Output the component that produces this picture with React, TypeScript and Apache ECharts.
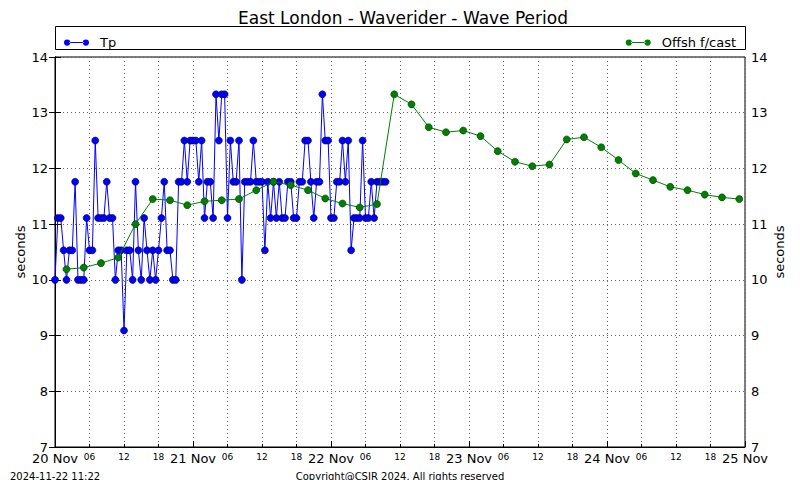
import React, { useEffect, useRef } from "react";
import * as echarts from "echarts";

// Tp (waverider) every 30 minutes from 20 Nov 00:00
const tpStartHour = 0;
const tpStepHours = 0.5;
const tpValues = [
  10.0, 11.11, 11.11, 10.53, 10.0, 10.53, 10.53, 11.76, 10.0, 10.0,
  10.0, 11.11, 10.53, 10.53, 12.5, 11.11, 11.11, 11.11, 11.76, 11.11,
  11.11, 10.0, 10.53, 10.53, 9.09, 10.53, 10.53, 10.0, 11.76, 10.53,
  10.0, 11.11, 10.53, 10.0, 10.53, 10.0, 10.53, 11.11, 11.76, 10.53,
  10.53, 10.0, 10.0, 11.76, 11.76, 12.5, 11.76, 12.5, 12.5, 12.5,
  11.76, 12.5, 11.11, 11.76, 11.76, 11.11, 13.33, 12.5, 13.33, 13.33,
  11.11, 12.5, 11.76, 11.76, 12.5, 10.0, 11.76, 11.76, 11.76, 12.5,
  11.76, 11.76, 11.76, 10.53, 11.76, 11.11, 11.76, 11.11, 11.76, 11.11,
  11.11, 11.76, 11.76, 11.11, 11.11, 11.76, 11.76, 12.5, 12.5, 11.76,
  11.11, 11.76, 11.76, 13.33, 12.5, 12.5, 11.11, 11.11, 11.76, 11.76,
  12.5, 11.76, 12.5, 10.53, 11.11, 11.11, 11.11, 12.5, 11.11, 11.11,
  11.76, 11.11, 11.76, 11.76, 11.76, 11.76,
];

// Offshore forecast every 3 hours from 20 Nov 02:00
const fcStartHour = 2;
const fcStepHours = 3;
const fcValues = [
  10.19, 10.22, 10.3, 10.4, 11.0, 11.45, 11.43, 11.34, 11.41, 11.43,
  11.45, 11.61, 11.76, 11.7, 11.61, 11.46, 11.37, 11.3, 11.36, 13.33,
  13.15, 12.74, 12.65, 12.68, 12.58, 12.31, 12.12, 12.04, 12.07, 12.52,
  12.56, 12.38, 12.15, 11.91, 11.79, 11.67, 11.61, 11.53, 11.48, 11.45,
];

const dayLabels = ["20 Nov", "21 Nov", "22 Nov", "23 Nov", "24 Nov", "25 Nov"];
const hourLabels = ["06", "12", "18"];

const titleText = "East London - Waverider - Wave Period";
const stampText = "2024-11-22 11:22";
const copyrightText = "Copyright@CSIR 2024. All rights reserved";

const FONT = "DejaVu Sans";
const legendIcon =
  "path://M0,4a3.5,3.5 0 1,0 7,0a3.5,3.5 0 1,0 -7,0z M21,4a3.5,3.5 0 1,0 7,0a3.5,3.5 0 1,0 -7,0z M6,3.55h16v0.9h-16z";

export default function App() {
  const ref = useRef<HTMLDivElement>(null);

  useEffect(() => {
    if (!ref.current) return;
    const chart = echarts.init(ref.current, null, { renderer: "svg" });

    const tpData = tpValues.map((v, i) => [tpStartHour + i * tpStepHours, v]);
    const fcData = fcValues.map((v, i) => [fcStartHour + i * fcStepHours, v]);

    const xLabel = (v: number) => {
      const h = Math.round(v);
      if (h % 24 === 0) return "{d|" + dayLabels[h / 24] + "}";
      return "{h|" + hourLabels[(h % 24) / 6 - 1] + "}";
    };

    const gridLine = { show: true, lineStyle: { color: "#666", type: [1, 3], width: 1 } };

    const legendBase = {
      top: 31,
      icon: legendIcon,
      itemWidth: 25,
      itemHeight: 7,
      itemStyle: { borderWidth: 0 },
      lineStyle: { width: 0 },
      textStyle: { fontFamily: FONT, fontSize: 13, color: "#000", padding: [0, 0, 0, 6] },
    };

    chart.setOption({
      animation: false,
      textStyle: { fontFamily: FONT },
      grid: {
        left: 55,
        top: 57,
        width: 690,
        height: 390,
        show: true,
        borderColor: "#000",
        borderWidth: 1,
        containLabel: false,
      },
      legend: [
        { ...legendBase, data: ["Tp"], left: 59 },
        { ...legendBase, data: ["Offsh f/cast"], right: 59 },
      ],
      xAxis: [
        {
          type: "value",
          min: 0,
          max: 120,
          interval: 6,
          position: "bottom",
          axisLine: { show: true, lineStyle: { color: "#000", width: 1 } },
          axisTick: { show: true, inside: true, length: 3, lineStyle: { color: "#000" } },
          splitLine: gridLine,
          axisLabel: {
            formatter: xLabel,
            margin: 5,
            color: "#000",
            rich: {
              d: { fontFamily: FONT, fontSize: 13, color: "#000" },
              h: { fontFamily: FONT, fontSize: 9, color: "#000", padding: [0, 0, 4, 0] },
            },
          },
        },
        {
          type: "value",
          min: 0,
          max: 120,
          interval: 24,
          position: "bottom",
          axisLine: { show: false },
          axisTick: { show: true, inside: true, length: 6, lineStyle: { color: "#000" } },
          splitLine: { show: false },
          axisLabel: { show: false },
        },
      ],
      yAxis: [
        {
          type: "value",
          min: 7,
          max: 14,
          interval: 1,
          position: "left",
          name: "seconds",
          nameLocation: "middle",
          nameGap: 28,
          nameMoveOverlap: false,
          nameTextStyle: { fontFamily: FONT, fontSize: 13, color: "#000" },
          axisLine: { show: true, lineStyle: { color: "#000", width: 1 } },
          axisTick: { show: true, inside: true, length: 6, lineStyle: { color: "#000" } },
          splitLine: gridLine,
          axisLabel: { fontFamily: FONT, fontSize: 13, color: "#000", margin: 7 },
        },
        {
          type: "value",
          min: 7,
          max: 14,
          interval: 1,
          position: "right",
          name: "seconds",
          nameLocation: "middle",
          nameGap: 28,
          nameRotate: 90,
          nameMoveOverlap: false,
          nameTextStyle: { fontFamily: FONT, fontSize: 13, color: "#000" },
          axisLine: { show: true, lineStyle: { color: "#000", width: 1 } },
          axisTick: { show: true, inside: true, length: 6, lineStyle: { color: "#000" } },
          splitLine: { show: false },
          axisLabel: { fontFamily: FONT, fontSize: 13, color: "#000", margin: 6 },
        },
      ],
      series: [
        {
          name: "Tp",
          type: "line",
          data: tpData,
          xAxisIndex: 0,
          yAxisIndex: 0,
          color: "#0000ff",
          symbol: "circle",
          symbolSize: 7,
          showAllSymbol: true,
          lineStyle: { color: "#0000ff", width: 1 },
          itemStyle: { color: "#0000ff", borderColor: "#000044", borderWidth: 0.6 },
          z: 2,
        },
        {
          name: "Offsh f/cast",
          type: "line",
          data: fcData,
          xAxisIndex: 0,
          yAxisIndex: 0,
          color: "#008000",
          symbol: "circle",
          symbolSize: 7,
          showAllSymbol: true,
          lineStyle: { color: "#008000", width: 1 },
          itemStyle: { color: "#008000", borderColor: "#003300", borderWidth: 0.6 },
          z: 3,
        },
      ],
      graphic: [
        {
          type: "text",
          x: 403,
          y: 18,
          style: {
            text: titleText,
            fontFamily: FONT,
            fontSize: 17,
            fill: "#000",
            textAlign: "center",
            textVerticalAlign: "middle",
          },
        },
        {
          type: "rect",
          shape: { x: 55.5, y: 26.5, width: 690, height: 23 },
          style: { fill: "none", stroke: "#000", lineWidth: 1 },
        },
        {
          type: "text",
          x: 10,
          y: 476,
          style: {
            text: stampText,
            fontFamily: FONT,
            fontSize: 10,
            fill: "#000",
            textAlign: "left",
            textVerticalAlign: "middle",
          },
        },
        {
          type: "text",
          x: 400,
          y: 476,
          style: {
            text: copyrightText,
            fontFamily: FONT,
            fontSize: 10,
            fill: "#000",
            textAlign: "center",
            textVerticalAlign: "middle",
          },
        },
      ],
    });

    return () => chart.dispose();
  }, []);

  return (
    <div
      ref={ref}
      style={{ position: "fixed", left: 0, top: 0, width: 800, height: 480, background: "#fff" }}
    />
  );
}
